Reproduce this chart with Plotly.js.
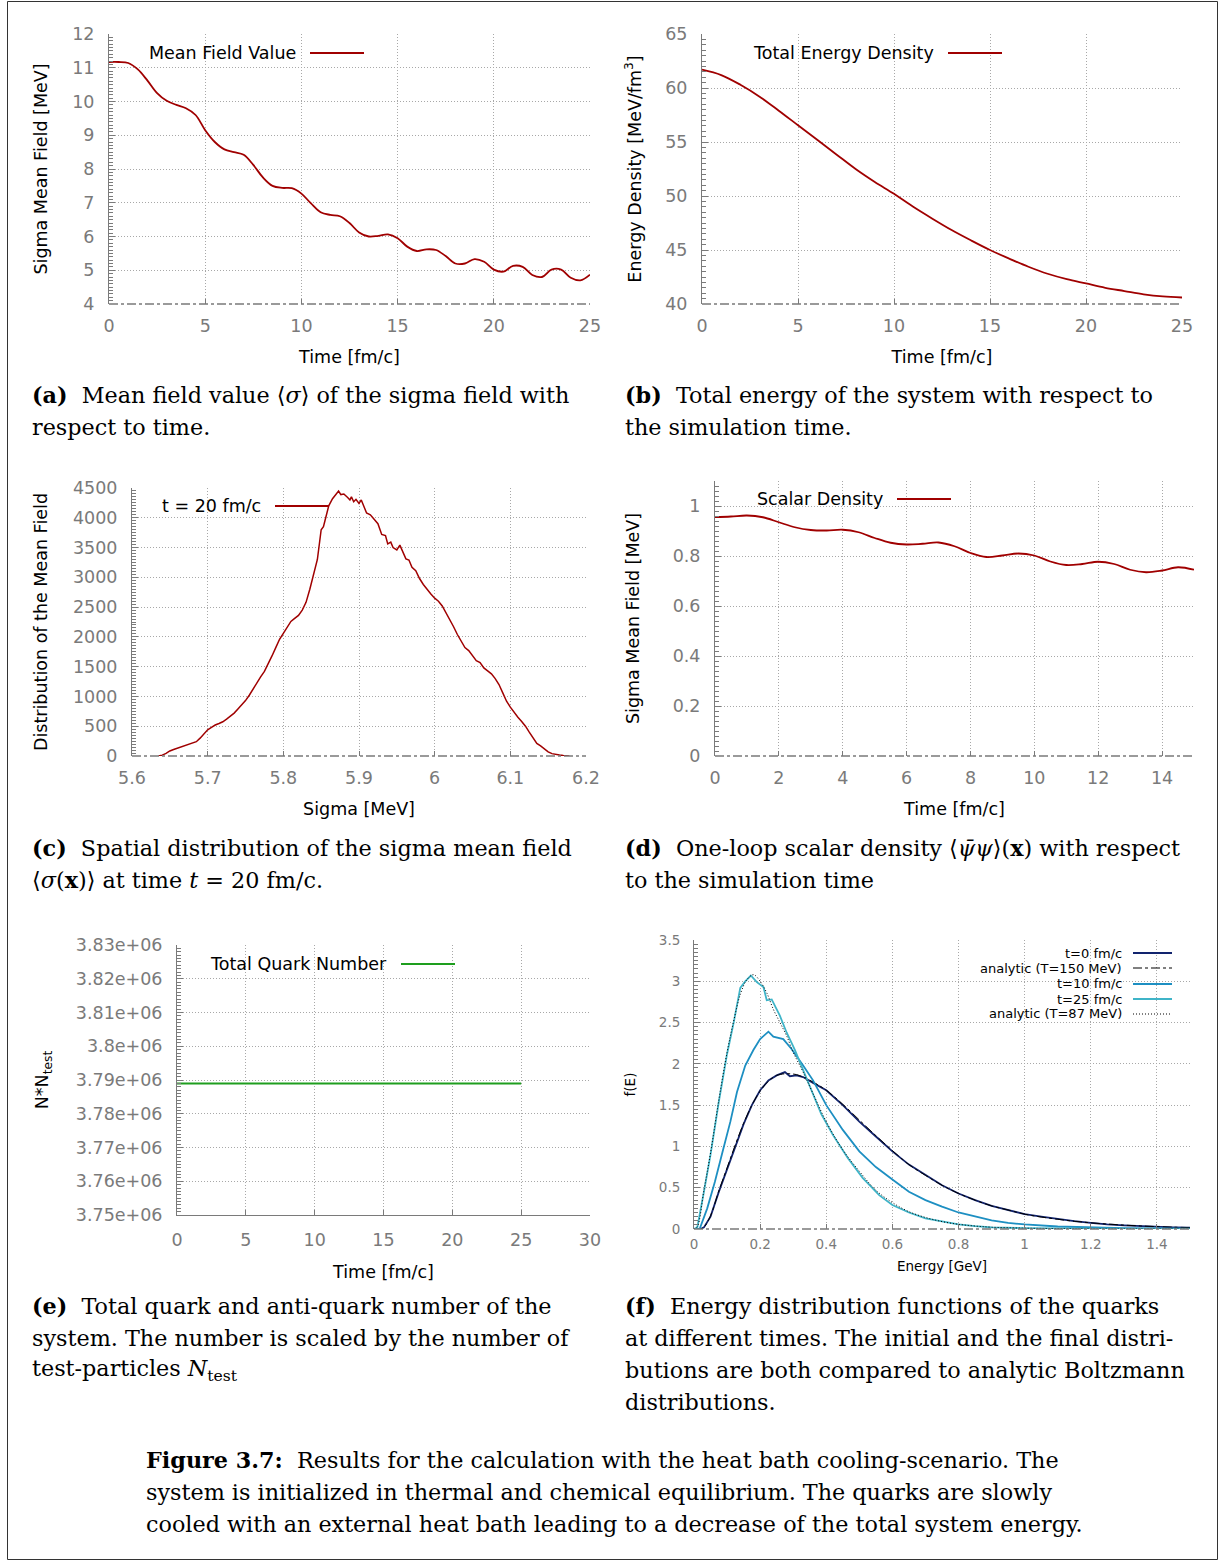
<!DOCTYPE html>
<html>
<head>
<meta charset="utf-8">
<script src="https://cdn.plot.ly/plotly-3.0.1.min.js"></script>
<style>html,body{margin:0;padding:0;background:#fff;}#fig{width:1219px;height:1561px;}</style>
</head>
<body>
<div id="fig"></div>
<script>
// ---------------- DATA ----------------
// (a) sigma mean field vs time
const timeA = [0,0.5,1,1.5,2,2.5,3,3.5,4,4.5,5,5.5,6,6.5,7,7.5,8,8.5,9,9.5,10,10.5,11,11.5,12,12.5,13,13.5,14,14.5,15,15.5,16,16.5,17,17.5,18,18.5,19,19.5,20,20.5,21,21.5,22,22.5,23,23.5,24,24.5,25];
const sigmaA = [11.17,11.17,11.14,10.95,10.62,10.25,10.02,9.9,9.8,9.6,9.15,8.8,8.58,8.5,8.42,8.12,7.75,7.5,7.44,7.43,7.27,6.98,6.72,6.64,6.6,6.4,6.12,6.0,6.02,6.06,5.95,5.7,5.57,5.62,5.6,5.42,5.2,5.2,5.33,5.25,5.02,4.96,5.13,5.1,4.86,4.8,5.02,5.02,4.78,4.7,4.87];

// (b) total energy density vs time
const timeB = [0,1,2,3,4,5,6,7,8,9,10,11,12,13,14,15,16,17,18,19,20,21,22,23,24,25];
const energyB = [61.7,61.2,60.3,59.2,57.9,56.55,55.2,53.85,52.5,51.3,50.2,49.0,47.9,46.85,45.9,45.0,44.2,43.45,42.8,42.3,41.9,41.5,41.2,40.9,40.7,40.6];

// (c) spatial distribution of sigma at t = 20 fm/c
const sigmaC = [5.635,5.64,5.645,5.65,5.655,5.66,5.665,5.67,5.675,5.68,5.685,5.69,5.695,5.7,5.705,5.71,5.715,5.72,5.725,5.73,5.735,5.74,5.745,5.75,5.755,5.76,5.765,5.77,5.775,5.78,5.785,5.79,5.795,5.8,5.805,5.81,5.815,5.82,5.825,5.83,5.835,5.84,5.845,5.85,5.853,5.855,5.86,5.865,5.87,5.873,5.876,5.88,5.885,5.888,5.89,5.893,5.896,5.9,5.903,5.906,5.91,5.915,5.92,5.925,5.93,5.935,5.938,5.942,5.945,5.95,5.954,5.958,5.962,5.966,5.97,5.975,5.98,5.985,5.99,5.995,6.0,6.005,6.01,6.015,6.02,6.025,6.03,6.035,6.04,6.045,6.05,6.055,6.06,6.065,6.07,6.075,6.08,6.085,6.09,6.095,6.1,6.105,6.11,6.115,6.12,6.125,6.13,6.135,6.14,6.145,6.15,6.155,6.16,6.165,6.17,6.178];
const distC = [0,15,45,85,110,130,150,175,190,210,240,300,370,440,480,520,545,575,620,670,720,790,860,930,1020,1130,1230,1330,1420,1540,1680,1820,1960,2060,2160,2260,2310,2360,2450,2580,2800,3050,3300,3800,3850,3950,4200,4320,4400,4450,4390,4400,4340,4300,4350,4270,4310,4240,4300,4200,4080,4050,3980,3900,3720,3700,3560,3590,3500,3460,3540,3420,3310,3290,3170,3110,2980,2880,2790,2720,2650,2600,2520,2410,2290,2170,2040,1940,1820,1770,1680,1600,1570,1480,1430,1380,1300,1200,1060,920,820,730,650,580,500,400,300,210,170,120,70,40,25,15,8,0];

// (d) one-loop scalar density vs time
const timeD = [0,0.5,1,1.5,2,2.5,3,3.5,4,4.5,5,5.5,6,6.5,7,7.5,8,8.5,9,9.5,10,10.5,11,11.5,12,12.5,13,13.5,14,14.5,15];
const scalarD = [0.956,0.958,0.962,0.955,0.935,0.915,0.904,0.902,0.905,0.895,0.872,0.853,0.846,0.849,0.854,0.839,0.812,0.796,0.802,0.81,0.802,0.778,0.764,0.768,0.777,0.768,0.745,0.735,0.742,0.755,0.745];

// (e) total quark number
const timeE = [0,5,10,15,20,25];
const quarkE = [3.789e6,3.789e6,3.789e6,3.789e6,3.789e6,3.789e6];
const tickValsE = [3.75e6,3.76e6,3.77e6,3.78e6,3.79e6,3.8e6,3.81e6,3.82e6,3.83e6];
const tickTextE = ["3.75e+06","3.76e+06","3.77e+06","3.78e+06","3.79e+06","3.8e+06","3.81e+06","3.82e+06","3.83e+06"];

// (f) energy distribution functions
const energyT0 = [0,0.02,0.03,0.05,0.075,0.1,0.125,0.15,0.175,0.2,0.225,0.25,0.275,0.29,0.31,0.33,0.36,0.4,0.45,0.5,0.55,0.6,0.65,0.7,0.75,0.8,0.85,0.9,0.95,1.0,1.05,1.1,1.15,1.2,1.25,1.3,1.35,1.4,1.45,1.5];
const fT0 = [0,0,0.02,0.15,0.45,0.72,1.0,1.27,1.5,1.68,1.8,1.86,1.9,1.85,1.86,1.84,1.77,1.68,1.5,1.3,1.12,0.94,0.78,0.65,0.53,0.43,0.35,0.28,0.23,0.18,0.15,0.12,0.095,0.075,0.055,0.045,0.035,0.028,0.02,0.016];
const energyA150 = [0,0.02,0.03,0.05,0.075,0.1,0.125,0.15,0.175,0.2,0.225,0.25,0.275,0.29,0.31,0.33,0.36,0.4,0.45,0.5,0.55,0.6,0.65,0.7,0.75,0.8,0.85,0.9,0.95,1.0,1.05,1.1,1.15,1.2,1.25,1.3,1.35,1.4,1.45,1.5];
const fA150 = [0,0,0.02,0.16,0.46,0.74,1.02,1.28,1.5,1.67,1.79,1.86,1.88,1.88,1.87,1.84,1.78,1.68,1.51,1.32,1.13,0.95,0.78,0.65,0.53,0.43,0.35,0.28,0.23,0.18,0.145,0.118,0.094,0.075,0.06,0.047,0.037,0.029,0.022,0.017];
const energyT10 = [0,0.017,0.04,0.063,0.086,0.11,0.13,0.155,0.18,0.2,0.225,0.24,0.27,0.295,0.33,0.36,0.4,0.45,0.5,0.55,0.6,0.65,0.7,0.75,0.8,0.85,0.9,0.95,1.0,1.1,1.2,1.3,1.4,1.5];
const fT10 = [0,0,0.25,0.57,0.93,1.3,1.66,1.98,2.17,2.3,2.39,2.33,2.3,2.18,1.98,1.8,1.5,1.2,0.94,0.75,0.6,0.45,0.35,0.27,0.2,0.15,0.105,0.075,0.055,0.03,0.018,0.01,0.006,0.004];
const energyT25 = [0,0.01,0.03,0.05,0.075,0.1,0.12,0.14,0.155,0.172,0.19,0.21,0.22,0.235,0.26,0.28,0.305,0.33,0.35,0.385,0.42,0.465,0.51,0.56,0.6,0.65,0.7,0.75,0.8,0.85,0.9,1.0,1.1,1.2,1.5];
const fT25 = [0,0.02,0.45,0.9,1.54,2.12,2.5,2.92,3.0,3.07,2.99,2.93,2.77,2.78,2.58,2.38,2.17,1.92,1.72,1.39,1.14,0.86,0.62,0.41,0.29,0.2,0.13,0.09,0.055,0.035,0.02,0.01,0.005,0.003,0.001];
const energyA87 = [0,0.01,0.03,0.05,0.075,0.1,0.12,0.14,0.16,0.18,0.2,0.22,0.24,0.26,0.28,0.3,0.33,0.36,0.4,0.45,0.5,0.55,0.6,0.65,0.7,0.75,0.8,0.85,0.9,1.0,1.1,1.2,1.35,1.5];
const fA87 = [0,0.03,0.47,0.92,1.56,2.14,2.52,2.84,3.02,3.08,3.0,2.86,2.66,2.5,2.34,2.14,1.9,1.64,1.3,0.96,0.7,0.47,0.32,0.21,0.14,0.09,0.057,0.036,0.022,0.01,0.005,0.002,0.001,0.0005];

// labels
const legendA = "Mean Field Value";
const legendB = "Total Energy Density";
const legendC = "t = 20 fm/c";
const legendD = "Scalar Density";
const legendE = "Total Quark Number";
const legendF = ["t=0 fm/c","analytic (T=150 MeV)","t=10 fm/c","t=25 fm/c","analytic (T=87 MeV)"];

const capA = ["<b>(a)</b>\u00a0\u00a0Mean field value ⟨<i>σ</i>⟩ of the sigma field with","respect to time."];
const capB = ["<b>(b)</b>\u00a0\u00a0Total energy of the system with respect to","the simulation time."];
const capC = ["<b>(c)</b>\u00a0\u00a0Spatial distribution of the sigma mean field","⟨<i>σ</i>(<b>x</b>)⟩ at time <i>t</i> = 20 fm/c."];
const capD = ["<b>(d)</b>\u00a0\u00a0One-loop scalar density ⟨<i>ψ̄ψ</i>⟩(<b>x</b>) with respect","to the simulation time"];
const capE = ["<b>(e)</b>\u00a0\u00a0Total quark and anti-quark number of the","system. The number is scaled by the number of","test-particles <i>N</i><sub>test</sub>"];
const capF = ["<b>(f)</b>\u00a0\u00a0Energy distribution functions of the quarks","at different times. The initial and the final distri-","butions are both compared to analytic Boltzmann","distributions."];
const capFig = ["<b>Figure 3.7:</b>\u00a0\u00a0Results for the calculation with the heat bath cooling-scenario. The","system is initialized in thermal and chemical equilibrium. The quarks are slowly","cooled with an external heat bath leading to a decrease of the total system energy."];

// ---------------- LAYOUT HELPERS ----------------
const W = 1219, H = 1561;
const PX = p => p / W;
const PY = p => 1 - p / H;
const SANS = "DejaVu Sans";
const SERIF = "DejaVu Serif";
const GRAY = "#7a7a7a";
const RED = "#a00000";
const GRIDDASH = "1px,2px";

function xAxis(box, range, dtick, title, standoff, fs, tfs, lstand) {
  return {
    domain: [PX(box[0]), PX(box[1])], range: range, dtick: dtick, tick0: range[0],
    ticks: "inside", ticklen: 5, tickcolor: GRAY, tickwidth: 1,
    showgrid: true, gridcolor: "#a8a8a8", griddash: GRIDDASH, gridwidth: 1,
    showline: false, zeroline: false,
    tickfont: {family: SANS, size: fs, color: GRAY},
    ticklabelstandoff: lstand,
    title: {text: title, font: {family: SANS, size: tfs, color: "#000"}, standoff: standoff},
    fixedrange: true
  };
}
function yAxis(box, range, dtick, minor, title, standoff, fs, tfs) {
  return {
    domain: [PY(box[3]), PY(box[2])], range: range, dtick: dtick, tick0: range[0],
    ticks: "inside", ticklen: 6, tickcolor: GRAY, tickwidth: 1,
    minor: {ticks: "inside", ticklen: 4, dtick: minor, tickcolor: GRAY, tickwidth: 1, showgrid: false},
    showgrid: true, gridcolor: "#a8a8a8", griddash: GRIDDASH, gridwidth: 1,
    showline: true, linecolor: GRAY, linewidth: 1, zeroline: false,
    tickfont: {family: SANS, size: fs, color: GRAY},
    ticklabelstandoff: 10,
    title: {text: title, font: {family: SANS, size: tfs, color: "#000"}, standoff: standoff},
    fixedrange: true
  };
}

// pixel boxes [left, right, top, bottom]
const boxA = [109, 590, 34, 304];
const boxB = [702, 1182, 34, 304];
const boxC = [132, 586, 488, 756];
const boxD = [715, 1194, 481, 756];
const boxE = [177, 590, 945, 1215];
const boxF = [694, 1190, 940, 1229];

const TF = 17.5; // tick font
const AF = 17.5; // axis title font

const traces = [
  {x: timeA, y: sigmaA, xaxis: "x", yaxis: "y", mode: "lines", line: {color: RED, width: 1.8, shape: "spline", smoothing: 1}, name: legendA},
  {x: timeB, y: energyB, xaxis: "x2", yaxis: "y2", mode: "lines", line: {color: RED, width: 1.8, shape: "spline"}, name: legendB},
  {x: sigmaC, y: distC, xaxis: "x3", yaxis: "y3", mode: "lines", line: {color: RED, width: 1.5}, name: legendC},
  {x: timeD, y: scalarD, xaxis: "x4", yaxis: "y4", mode: "lines", line: {color: RED, width: 1.8, shape: "spline"}, name: legendD},
  {x: timeE, y: quarkE, xaxis: "x5", yaxis: "y5", mode: "lines", line: {color: "#1e9e1e", width: 2}, name: legendE},
  {x: energyT0, y: fT0, xaxis: "x6", yaxis: "y6", mode: "lines", line: {color: "#12246e", width: 1.8}, name: legendF[0]},
  {x: energyA150, y: fA150, xaxis: "x6", yaxis: "y6", mode: "lines", line: {color: "#000", width: 1, dash: "dashdot", shape: "spline"}, name: legendF[1]},
  {x: energyT10, y: fT10, xaxis: "x6", yaxis: "y6", mode: "lines", line: {color: "#1d8fc2", width: 1.8}, name: legendF[2]},
  {x: energyT25, y: fT25, xaxis: "x6", yaxis: "y6", mode: "lines", line: {color: "#3fb4c8", width: 1.8}, name: legendF[3]},
  {x: energyA87, y: fA87, xaxis: "x6", yaxis: "y6", mode: "lines", line: {color: "#000", width: 1, dash: "1px,2px", shape: "spline"}, name: legendF[4]}
];

const layout = {
  width: W, height: H,
  margin: {l: 0, r: 0, t: 0, b: 0},
  paper_bgcolor: "#fff", plot_bgcolor: "rgba(0,0,0,0)",
  showlegend: false,
  xaxis:  Object.assign(xAxis(boxA, [0, 25], 5, "Time [fm/c]", 16, TF, AF, 9), {anchor: "y"}),
  yaxis:  Object.assign(yAxis(boxA, [4, 12], 1, 0.1, "Sigma Mean Field [MeV]", 20, TF, AF), {anchor: "x"}),
  xaxis2: Object.assign(xAxis(boxB, [0, 25], 5, "Time [fm/c]", 16, TF, AF, 9), {anchor: "y2"}),
  yaxis2: Object.assign(yAxis(boxB, [40, 65], 5, 0.5, "Energy Density [MeV/fm<sup>3</sup>]", 19, TF, AF), {anchor: "x2"}),
  xaxis3: Object.assign(xAxis(boxC, [5.6, 6.2], 0.1, "Sigma [MeV]", 16, TF, AF, 9), {anchor: "y3"}),
  yaxis3: Object.assign(yAxis(boxC, [0, 4500], 500, 50, "Distribution of the Mean Field", 20, TF, AF), {anchor: "x3"}),
  xaxis4: Object.assign(xAxis(boxD, [0, 15], 2, "Time [fm/c]", 16, TF, AF, 9), {anchor: "y4"}),
  yaxis4: Object.assign(yAxis(boxD, [0, 1.1], 0.2, 0.02, "Sigma Mean Field [MeV]", 28, TF, AF), {anchor: "x4"}),
  xaxis5: Object.assign(xAxis(boxE, [0, 30], 5, "Time [fm/c]", 16, TF, AF, 9), {anchor: "y5", showline: true, linecolor: GRAY}),
  yaxis5: Object.assign(yAxis(boxE, [3.75e6, 3.83e6], null, 1000, "N*N<sub>test</sub>", 22, TF, AF), {anchor: "x5", tickmode: "array", tickvals: tickValsE, ticktext: tickTextE}),
  xaxis6: Object.assign(xAxis(boxF, [0, 1.5], 0.2, "Energy [GeV]", 11, 13.5, 13.5, 5), {anchor: "y6"}),
  yaxis6: Object.assign(yAxis(boxF, [0, 3.5], 0.5, 0.05, "f(E)", 20, 13.5, 13.5), {anchor: "x6"}),
  shapes: [],
  annotations: []
};
delete layout.yaxis5.dtick;

// dash-dot bottom borders
["", "2", "3", "4", "6"].forEach(s => {
  layout.shapes.push({type: "line", xref: "x" + s + " domain", yref: "y" + s + " domain", x0: 0, x1: 1, y0: 0, y1: 0,
    line: {color: GRAY, width: 1.3, dash: "dashdot"}, layer: "above"});
});

// legend keys: white box, text, line sample
function key(boxPx, textRight, yc, label, x0, x1, color, dash, fs, width) {
  if (boxPx) layout.shapes.push({type: "rect", xref: "paper", yref: "paper", x0: PX(boxPx[0]), x1: PX(boxPx[1]), y0: PY(boxPx[3]), y1: PY(boxPx[2]),
    line: {width: 0}, fillcolor: "#fff", layer: "between"});
  layout.annotations.push({xref: "paper", yref: "paper", x: PX(textRight), y: PY(yc), xanchor: "right", yanchor: "middle",
    text: label, showarrow: false, font: {family: SANS, size: fs, color: "#000"}});
  layout.shapes.push({type: "line", xref: "paper", yref: "paper", x0: PX(x0), x1: PX(x1), y0: PY(yc), y1: PY(yc),
    line: {color: color, width: width, dash: dash}, layer: "above"});
}
key([140, 370, 42, 64], 298, 53, legendA, 310, 364, RED, "solid", 17.5, 1.8);
key([745, 1010, 42, 64], 936, 53, legendB, 948, 1002, RED, "solid", 17.5, 1.8);
key([155, 275, 495, 517], 263, 506, legendC, 275, 329, RED, "solid", 17.5, 1.8);
key([725, 966, 488, 512], 885, 499, legendD, 897, 951, RED, "solid", 17.5, 1.8);
key([200, 463, 952, 976], 389, 964, legendE, 401, 455, "#1e9e1e", "solid", 17.5, 2);
layout.shapes.push({type: "rect", xref: "paper", yref: "paper", x0: PX(958), x1: PX(1186), y0: PY(1020), y1: PY(943),
  line: {width: 0}, fillcolor: "#fff", layer: "between"});
const fColors = ["#12246e", "#000", "#1d8fc2", "#3fb4c8", "#000"];
const fDash = ["solid", "dashdot", "solid", "solid", "1px,2px"];
const fWidth = [1.8, 1, 1.8, 1.8, 1];
const fY = [953, 968, 984, 999, 1014];
legendF.forEach((lab, i) => key(null, 1124, fY[i], lab, 1133, 1172, fColors[i], fDash[i], 13, fWidth[i]));

// captions
function caption(lines, left, firstY, fs) {
  lines.forEach((t, i) => layout.annotations.push({xref: "paper", yref: "paper", x: PX(left), y: PY(firstY + 32 * i),
    xanchor: "left", yanchor: "middle", text: t, showarrow: false, font: {family: SERIF, size: fs, color: "#000"}}));
}
caption(capA, 30, 395, 22.3);
caption(capB, 623, 395, 22.3);
caption(capC, 30, 848, 22.3);
caption(capD, 623, 848, 22.3);
caption(capE, 30, 1306, 22.3);
caption(capF, 623, 1306, 22.3);
caption(capFig, 144, 1460, 22.3);

// outer frame
layout.shapes.push({type: "rect", xref: "paper", yref: "paper", x0: PX(7.5), x1: PX(1217.5), y0: PY(1559.5), y1: PY(1.5),
  line: {color: "#333", width: 1}, fillcolor: "rgba(0,0,0,0)", layer: "above"});

Plotly.newPlot("fig", traces, layout, {staticPlot: true, displayModeBar: false});
</script>
</body>
</html>
